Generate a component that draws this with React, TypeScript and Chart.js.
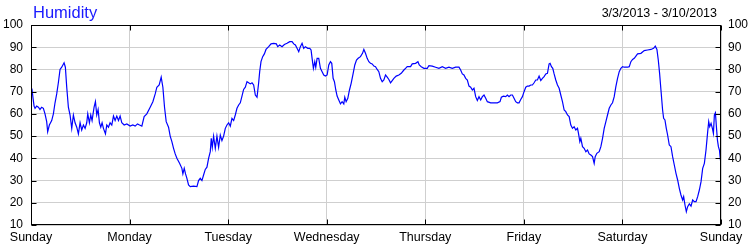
import React, { useEffect, useRef } from "react";
import { Chart, registerables } from "chart.js";

Chart.register(...registerables);

const chartTitle = "Humidity";
const dateRange = "3/3/2013 - 3/10/2013";
const dayLabels = ["Sunday", "Monday", "Tuesday", "Wednesday", "Thursday", "Friday", "Saturday", "Sunday"];
const yMin = 10;
const yMax = 100;
const yStep = 10;
const hoursPerDay = 24;

// hours since Sunday 3/3/2013 00:00
const hours = [
  0, 0.25, 0.5, 0.75, 0.98, 1.38, 1.79, 2.19, 2.6, 3.01, 3.41, 3.82, 4.06, 4.47, 5.04, 5.45, 5.85, 6.26, 6.66, 7.07, 7.48,
  8.05, 8.37, 8.7, 9.1, 9.51, 9.92, 10.32, 10.73, 11.14, 11.54, 11.95, 12.35, 12.76, 13.17, 13.57, 13.82, 14.22, 14.55, 14.87, 15.36,
  15.69, 16.01, 16.34, 16.66, 16.99, 17.31, 17.64, 18.13, 18.45, 18.86, 19.26, 19.67, 20.08, 20.48, 20.89, 21.3, 21.7, 22.11, 22.68, 23.33,
  24.14, 24.79, 25.36, 25.93, 26.42, 26.99, 27.55, 28.2, 29.02, 29.67, 30.24, 30.64, 31.21, 31.7, 32.11, 32.51, 32.92, 33.49, 33.89, 34.3,
  34.71, 35.11, 35.52, 36.17, 36.74, 36.98, 37.31, 37.63, 37.96, 38.36, 38.77, 39.58, 40.4, 40.8, 41.21, 41.62, 42.02, 42.43, 42.84, 43.24,
  43.65, 43.89, 44.14, 44.46, 44.87, 45.27, 45.68, 46.09, 46.49, 46.9, 47.31, 47.71, 48.12, 48.52, 48.93, 49.34, 49.74, 50.15, 50.56, 50.96,
  51.37, 51.77, 52.18, 52.59, 52.99, 53.4, 53.81, 54.21, 54.62, 55.03, 55.43, 55.68, 56, 56.41, 56.82, 57.22, 57.87, 58.44, 59.09, 59.74,
  60.07, 60.55, 61.12, 61.69, 62.34, 62.99, 63.56, 63.97, 64.37, 64.78, 65.19, 65.59, 66, 66.41, 66.81, 67.38, 67.87, 68.19, 68.44, 68.76,
  69.09, 69.33, 69.66, 70.06, 70.47, 70.88, 71.28, 71.69, 72.1, 72.5, 72.91, 73.23, 73.56, 73.88, 74.21, 74.53, 74.94, 75.35, 75.75, 76.16,
  76.4, 76.73, 77.14, 77.54, 77.95, 78.44, 78.84, 79.25, 79.66, 80.22, 80.71, 81.04, 81.44, 81.85, 82.26, 82.66, 83.07, 83.48, 83.88, 84.29,
  84.69, 85.1, 85.51, 85.91, 86.32, 86.73, 87.13, 87.54, 87.95, 88.35, 88.92, 89.57, 90.14, 90.79, 91.2, 91.6, 92.42, 92.82, 93.64, 94.21,
  94.53, 95.02, 95.67, 96.48, 96.89, 97.7, 98.51, 99.32, 100.14, 100.95, 101.76, 102.58, 103.39, 104.2, 104.61, 105.02, 105.42, 105.83, 106.24, 106.64,
  107.05, 107.46, 107.86, 108.27, 108.67, 109.08, 109.49, 109.89, 110.3, 110.71, 111.11, 111.92, 112.74, 113.55, 114.2, 114.52, 115.01, 115.58, 115.99, 116.39,
  116.8, 117.21, 117.61, 118.02, 118.43, 118.83, 119.24, 119.65, 120.05, 120.46, 120.86, 121.27, 121.68, 122.08, 122.49, 122.9, 123.3, 123.71, 124.12, 124.52,
  124.93, 125.34, 125.74, 126.15, 126.39, 126.72, 127.04, 127.37, 127.77, 128.18, 128.59, 128.99, 129.4, 129.81, 130.21, 130.62, 131.03, 131.43, 131.84, 132.24,
  132.65, 133.06, 133.3, 133.63, 133.87, 134.28, 134.68, 135.09, 135.5, 135.9, 136.31, 136.72, 137.12, 137.37, 137.77, 138.34, 138.75, 139.16, 139.56, 139.97,
  140.37, 140.78, 141.19, 141.59, 142, 142.4, 142.81, 143.22, 143.62, 144.03, 144.44, 145.25, 145.66, 146.06, 146.47, 146.88, 147.28, 147.69, 148.5, 149.31,
  150.13, 150.94, 151.59, 152, 152.4, 152.73, 153.05, 153.38, 153.78, 154.03, 154.35, 154.68, 155, 155.41, 155.82, 156.22, 156.63, 157.04, 157.44, 157.85,
  158.25, 158.66, 158.91, 159.23, 159.56, 159.88, 160.29, 160.7, 161.1, 161.51, 161.92, 162.32, 162.73, 163.14, 163.54, 163.95, 164.35, 164.76, 165.01, 165.25,
  165.58, 165.9, 166.15, 166.39, 166.64, 166.88, 167.13, 167.37, 167.62, 167.86, 168,
];

const humidity = [
  72, 71, 67, 63.5, 62.5, 63.5, 63, 62, 63, 62.5, 60, 56.5, 52, 55, 57, 60, 65, 69, 74, 80, 81,
  83, 81, 72, 63, 59.5, 53.5, 59.5, 56, 54, 51, 56, 52.75, 55, 53.5, 56, 60, 56, 59.5, 57, 63,
  65.5, 59.5, 62, 56, 54, 56, 53.5, 51, 55, 54, 56, 55, 59, 57, 59, 57, 59, 56, 55, 55.5,
  54.5, 55, 54.5, 55.5, 55, 54.5, 58.75, 60, 63, 65.5, 69, 72, 73, 76.5, 72, 63, 56.5, 54, 50, 47.5,
  44.5, 42, 40, 37.75, 35.5, 33, 35.5, 33, 31, 28, 27.25, 27.5, 27.25, 30, 31, 30, 32.5, 35, 36, 40,
  43, 49, 45, 50, 44.5, 50, 45, 50.5, 48, 50, 53.5, 55, 56, 54.5, 58, 57, 59.5, 62.5, 64, 65,
  68, 71, 72, 74.5, 74, 73.5, 74, 73, 68.5, 67.5, 74, 79, 83.5, 85.75, 87, 89, 90.25, 91.5, 91.75, 91.5,
  90.25, 91, 90.25, 91.25, 91.75, 92.5, 92.5, 91.5, 91, 89.5, 88, 90.25, 91.75, 89.5, 90.25, 89.5, 89.5, 88.75, 85, 80.5,
  83.5, 81, 85, 85, 80.5, 79, 77.5, 77, 77.5, 82, 83.5, 82.75, 76, 74.5, 70.75, 68, 66.25, 64.5, 65.5, 64.5,
  67.5, 65.5, 67, 70.75, 73.75, 78.25, 82, 84.25, 85, 85.75, 87.25, 89, 87.25, 85, 83.5, 82.75, 82.5, 81.5, 81.25, 80,
  79, 76, 74.5, 75.25, 77.5, 76.5, 75.5, 74, 75, 76, 77, 77.5, 78.25, 79.75, 80.5, 81.25, 81.25, 82.5, 82.75, 83.5,
  82, 81.25, 80.5, 80.5, 81.75, 81.5, 81, 80.5, 81.25, 80.5, 81, 80.5, 81, 81, 79.75, 78, 77.5, 76, 75.25, 72.5,
  72, 70.75, 71.5, 67.75, 66, 67.75, 66.25, 67.75, 68.5, 67, 65.5, 65, 65, 65, 65.5, 67.5, 68, 67.75, 68.5, 67.75,
  68.5, 68.5, 67, 65.5, 65, 65, 66.5, 67.75, 70, 72, 72.5, 72.5, 73, 73, 74, 75.25, 75.25, 77, 75, 76,
  76.75, 78, 78.25, 82.5, 82.75, 81.25, 80.5, 78, 75.25, 73, 71.5, 68.5, 65.5, 61.75, 61, 59.5, 58.75, 55, 53.5, 54.25,
  52.75, 53.5, 51.25, 47.5, 49, 45.25, 44.5, 43, 43.75, 42, 41.5, 40.75, 37.75, 40.75, 42.25, 43, 45.25, 49, 53.5, 56.5,
  59.5, 62.5, 64, 65, 67.75, 72.25, 76, 79, 80.5, 81.25, 81, 81, 81.25, 83.5, 84.5, 85, 86, 87, 87.25, 88.5,
  88.75, 89, 89.5, 90.5, 89, 84.25, 78.25, 70.75, 61.75, 58, 57.25, 53.5, 50.5, 46, 45.25, 40.75, 37, 33.25, 30.25, 26.5,
  23.5, 21.25, 22.75, 19, 16, 18.25, 19.5, 18.5, 21.25, 20.5, 20.5, 22.75, 25.75, 29.5, 35.5, 37.75, 43.75, 52, 56.5, 54.25,
  55.75, 53.5, 51.25, 59.5, 60.5, 54.25, 48.25, 45.25, 43.75, 39.25, 39.25,
];

const FONT = '"Liberation Sans", Arial, sans-serif';

const decorPlugin = {
  id: "decor",
  afterDraw(chart: any) {
    const { ctx, chartArea: a, scales } = chart;
    ctx.save();
    ctx.strokeStyle = "#000";
    ctx.lineWidth = 1;
    ctx.beginPath();
    const L = Math.round(a.left) + 0.5;
    const R = Math.round(a.right) - 0.5;
    const T = Math.round(a.top) + 0.5;
    const B = Math.round(a.bottom) - 0.5;
    const tl = 5;
    scales.x.ticks.forEach((t: any) => {
      const px = Math.round(scales.x.getPixelForValue(t.value)) + 0.5;
      ctx.moveTo(px, B);
      ctx.lineTo(px, B - tl);
      ctx.moveTo(px, T);
      ctx.lineTo(px, T + tl);
    });
    scales.y.ticks.forEach((t: any) => {
      const py = Math.round(scales.y.getPixelForValue(t.value)) + 0.5;
      ctx.moveTo(L, py);
      ctx.lineTo(L + tl, py);
      ctx.moveTo(R, py);
      ctx.lineTo(R - tl, py);
    });
    ctx.stroke();
    ctx.strokeRect(L, T, R - L, B - T);
    ctx.fillStyle = "#1a1aff";
    ctx.font = `16.5px ${FONT}`;
    ctx.textAlign = "left";
    ctx.textBaseline = "alphabetic";
    ctx.fillText(chartTitle, 33, 18);
    ctx.fillStyle = "#000";
    ctx.font = `12.5px ${FONT}`;
    ctx.textAlign = "right";
    ctx.fillText(dateRange, 717, 17);
    ctx.restore();
  },
};

export default function App() {
  const ref = useRef<HTMLCanvasElement | null>(null);

  useEffect(() => {
    if (!ref.current) return;
    const points = hours.map((h, i) => ({ x: h, y: humidity[i] }));
    const tickFont = { family: FONT, size: 12 };
    const chart = new Chart(ref.current, {
      type: "line",
      data: {
        datasets: [
          {
            label: chartTitle,
            data: points,
            borderColor: "#0000ff",
            borderWidth: 1.2,
            pointRadius: 0,
            tension: 0,
            fill: false,
            yAxisID: "y",
          },
        ],
      },
      options: {
        animation: false,
        responsive: false,
        devicePixelRatio: 1,
        layout: { padding: { top: 25, left: 0, right: 0, bottom: 0 } },
        plugins: { legend: { display: false }, tooltip: { enabled: false }, title: { display: false } },
        scales: {
          x: {
            type: "linear",
            min: 0,
            max: hoursPerDay * 7,
            grid: { color: "#cfcfcf", drawTicks: false },
            border: { display: false },
            ticks: {
              stepSize: hoursPerDay,
              autoSkip: false,
              maxRotation: 0,
              padding: 5,
              color: "#000",
              font: { family: FONT, size: 12.5 },
              callback: (v: any) => dayLabels[Math.round(Number(v) / hoursPerDay)] ?? "",
            },
            afterFit: (s: any) => {
              s.height = 25;
            },
          },
          y: {
            position: "left",
            min: yMin,
            max: yMax,
            grid: { color: "#cfcfcf", drawTicks: false },
            border: { display: false },
            ticks: { stepSize: yStep, padding: 8, color: "#000", font: tickFont },
            afterFit: (s: any) => {
              s.width = 31;
            },
          },
          y2: {
            position: "right",
            min: yMin,
            max: yMax,
            grid: { drawOnChartArea: false, drawTicks: false },
            border: { display: false },
            ticks: { stepSize: yStep, padding: 7, color: "#000", font: tickFont },
            afterFit: (s: any) => {
              s.width = 29;
            },
          },
        },
      },
      plugins: [decorPlugin],
    });
    return () => chart.destroy();
  }, []);

  return (
    <div style={{ position: "fixed", left: 0, top: 0, width: 750, height: 250, background: "#fff" }}>
      <canvas ref={ref} width={750} height={250} style={{ display: "block" }} />
    </div>
  );
}
